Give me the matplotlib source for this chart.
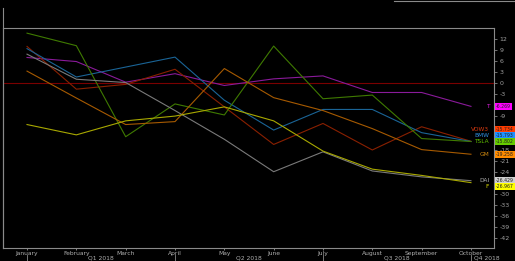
import numpy as np
import matplotlib.pyplot as plt
import matplotlib.transforms as mtransforms
from matplotlib.lines import Line2D

months = ['January', 'February', 'March', 'April', 'May', 'June',
          'July', 'August', 'September', 'October']
quarters = ['Q1 2018', 'Q2 2018', 'Q3 2018', 'Q4 2018']

# monthly % change per ticker
t_vals = [7.0, 5.9, 0.3, 2.6, -0.6, 1.2, 2.0, -2.5, -2.5, -6.269]
vow3_vals = [10.0, -1.6, -0.3, 3.8, -6.4, -16.6, -10.9, -18.1, -11.8, -15.734]
bmw_vals = [9.4, 1.7, 4.4, 7.1, -4.6, -12.7, -7.1, -7.1, -13.4, -15.793]
tsla_vals = [13.6, 10.2, -14.5, -5.6, -8.6, 10.1, -4.2, -3.2, -15.0, -15.802]
gm_vals = [3.3, -4.0, -11.2, -10.4, 4.0, -3.9, -7.4, -12.3, -18.0, -19.258]
dai_vals = [7.9, 1.1, 0.2, -7.4, -15.2, -24.0, -18.6, -23.8, -25.4, -26.429]
f_vals = [-11.2, -14.0, -10.2, -8.9, -6.4, -10.2, -18.4, -23.3, -25.0, -26.967]

tickers = ['T', 'VOW3', 'BMW', 'TSLA', 'GM', 'DAI', 'F']
series = [t_vals, vow3_vals, bmw_vals, tsla_vals, gm_vals, dai_vals, f_vals]
last_labels = ['-6.269', '-15.734', '-15.793', '-15.802', '-19.258', '-26.429', '-26.967']

y_ticks = [12, 9, 6, 3, 0, -3, -9, -18, -21, -24, -30, -33, -36, -39, -42]

line_colors = ['#8a1a9a', '#8a2000', '#1a6496', '#3f7a00', '#a65a00', '#7a7a7a', '#a8a800']
name_colors = ['#e020e0', '#d83a10', '#2f8fe0', '#60c000', '#d08a10', '#b0b0b0', '#e0e000']
box_colors = ['#ff00ff', '#ff3c00', '#1e90ff', '#66cc00', '#ff8c00', '#d0d0d0', '#ffff00']
# vertical nudge (pixels) so the last-value boxes don't overlap
nudge_px = [0, 11.5, 6, 0, 0, 0, -3.5]

fig = plt.figure(figsize=(5.15, 2.61), dpi=100, facecolor='black')
ax = fig.add_axes([3 / 515, 13 / 261, 491 / 515, 220 / 261], facecolor='black')

ax.axhline(0, color='#7a0000', lw=0.8, zorder=1)
for vals, c in zip(series, line_colors):
    ax.plot(range(len(months)), vals, color=c, lw=0.8, zorder=2)

ax.set_xlim(-0.487, 9.467)
ax.set_ylim(-44.7, 15)

for side in ['left', 'bottom', 'right', 'top']:
    ax.spines[side].set_color('#8a8a8a')
    ax.spines[side].set_linewidth(0.8)

ax.yaxis.tick_right()
ax.set_yticks(y_ticks)
ax.set_yticklabels([str(v) for v in y_ticks])
ax.tick_params(axis='y', colors='#a0a0a0', labelsize=4.5, length=2, width=0.5, pad=2)
ax.set_xticks(range(len(months)))
ax.set_xticklabels(months)
ax.tick_params(axis='x', colors='#b0b0b0', labelsize=4.3, length=1.5, width=0.5, pad=1)

# quarter row
trans = mtransforms.blended_transform_factory(ax.transData, ax.transAxes)
q_pos = [1.5, 4.5, 7.5, 9.06]
q_ha = ['center', 'center', 'center', 'left']
for q, xq, ha in zip(quarters, q_pos, q_ha):
    ax.text(xq, -0.046, q, transform=trans, color='#b0b0b0', fontsize=4.3,
            ha=ha, va='center')
for xs in [0, 3, 6, 9]:
    ax.add_line(Line2D([xs, xs], [-0.032, -0.06], transform=trans, color='#8a8a8a',
                       lw=0.6, clip_on=False))

# names and last-value boxes at right
px = 72 / fig.dpi
for name, vals, nc, bc, lab, dy in zip(tickers, series, name_colors, box_colors,
                                       last_labels, nudge_px):
    off = mtransforms.offset_copy(ax.transData, fig=fig, x=0, y=dy * px, units='points')
    tb = mtransforms.blended_transform_factory(ax.transAxes, off)
    ax.text(0.99, vals[-1], name, transform=tb, color=nc, fontsize=4.2,
            ha='right', va='center', zorder=5)
    ax.text(1.004, vals[-1], lab, transform=tb, color='#202020', fontsize=3.3,
            ha='left', va='center', clip_on=False, zorder=6,
            bbox=dict(boxstyle='square,pad=0.25', fc=bc, ec='none'))

# outer frame bits
fig.add_artist(Line2D([3 / 515, 3 / 515], [13 / 261, 253 / 261], color='#8a8a8a', lw=0.8))
fig.add_artist(Line2D([394 / 515, 1], [260.5 / 261, 260.5 / 261], color='#8a8a8a', lw=0.8))

fig.savefig('out.png', dpi=100, facecolor='black')
